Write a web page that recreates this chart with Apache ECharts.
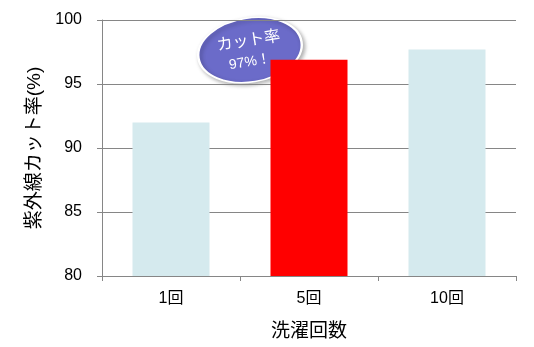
<!DOCTYPE html>
<html><head><meta charset="utf-8">
<script src="https://cdn.jsdelivr.net/npm/echarts@6/dist/echarts.min.js"></script>
<style>html,body{margin:0;padding:0;background:#fff}#c{width:534px;height:347px}</style>
</head><body><div id="c"></div>
<script>
const categories = ['1回', '5回', '10回'];
const values = [92.0, 96.9, 97.7];
const barColors = ['#d5eaee', '#ff0000', '#d5eaee'];
const yTicks = [80, 85, 90, 95, 100];
const yName = '紫外線カット率(%)';
const xName = '洗濯回数';
const calloutLines = ['カット率', '97%！'];

const font = '"Liberation Sans", "Noto Sans CJK JP", sans-serif';
const chart = echarts.init(document.getElementById('c'));
chart.setOption({
  animation: false,
  grid: {left: 102, right: 18, top: 20, bottom: 71},
  xAxis: {
    type: 'category', data: categories,
    axisLine: {lineStyle: {color: '#868686'}},
    axisTick: {show: true, length: 5, lineStyle: {color: '#868686'}},
    axisLabel: {color: '#000', fontSize: 16, fontFamily: font, margin: 15},
    name: xName, nameLocation: 'middle', nameGap: 46,
    nameTextStyle: {color: '#000', fontSize: 19, fontFamily: font}
  },
  yAxis: {
    type: 'value', min: yTicks[0], max: yTicks[yTicks.length - 1], interval: 5,
    axisLine: {show: true, lineStyle: {color: '#868686'}},
    axisTick: {show: true, length: 5, inside: false, lineStyle: {color: '#868686'}},
    splitLine: {lineStyle: {color: '#868686'}},
    axisLabel: {color: '#000', fontSize: 16, fontFamily: font, margin: 20},
    name: yName, nameLocation: 'middle', nameGap: 57, nameRotate: 90,
    nameTextStyle: {color: '#000', fontSize: 19, fontFamily: font}
  },
  series: [{
    type: 'bar', barWidth: 77,
    data: values.map((v, i) => ({value: v, itemStyle: {color: barColors[i]}}))
  }],
  graphic: [{
    type: 'group', x: 250, y: 50, rotation: 0.16,
    children: [{
      type: 'circle', shape: {cx: 0, cy: 0, r: 32}, scaleX: 1.63, scaleY: 1,
      style: {fill: '#6b6bc9', stroke: '#ffffff', lineWidth: 1.5,
              shadowBlur: 4, shadowColor: 'rgba(0,0,0,0.3)', shadowOffsetX: 2, shadowOffsetY: 2}
    }, {
      type: 'text', x: 0, y: -9,
      style: {text: calloutLines[0], fill: '#fff', fontSize: 16, fontFamily: font,
              align: 'center', verticalAlign: 'middle'}
    }, {
      type: 'text', x: -2, y: 12,
      style: {text: calloutLines[1], fill: '#fff', fontSize: 14, fontFamily: font,
              align: 'center', verticalAlign: 'middle'}
    }]
  }]
});
</script></body></html>
